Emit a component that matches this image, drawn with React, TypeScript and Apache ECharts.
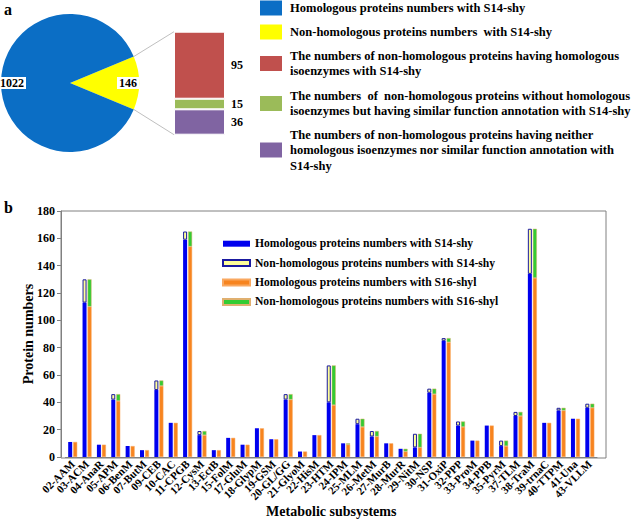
import React, { useEffect, useRef } from "react";
import * as echarts from "echarts";

// ---- Panel a data ----
const pieNames = ["Non-homologous proteins numbers  with S14-shy", "Homologous proteins numbers with S14-shy"];
const pieValues = [146, 1022];
const breakdownNames = [
  "The numbers of non-homologous proteins having neither homologous isoenzymes nor similar function annotation with S14-shy",
  "The numbers  of  non-homologous proteins without homologous isoenzymes but having similar function annotation with S14-shy",
  "The numbers of non-homologous proteins having homologous isoenzymes with S14-shy",
];
const breakdownValues = [36, 15, 95];

// ---- Panel b data ----
const categories = [
  "02-AAM", "03-ACM", "04-AnaR", "05-APM", "06-BenM", "07-ButM", "09-CEB", "10-CAC", "11-CPGB", "12-CysM",
  "13-EctB", "15-FolM", "17-GluM", "18-GlypM", "19-GSM", "20-GL/GG", "21-GlyoM", "22-HisM", "23-HTM", "24-IPM",
  "25-MLM", "26-MetM", "27-MurB", "28-MurR", "29-NitM", "30-NSP", "31-OxiP", "32-PPP", "33-ProM", "34-PPB",
  "35-PyrM", "37-TLM", "38-TraM", "39-trnaC", "40-TTPM", "41-Una", "43-VLLM",
];
const s14Hom = [11, 113, 9, 42, 8, 5, 49, 25, 159, 16, 5, 14, 9, 21, 13, 42, 4, 16, 40, 10, 24, 15, 10, 6, 7, 47, 85, 23, 12, 23, 8, 30, 134, 25, 34, 28, 36];
const s14Non = [0, 17, 0, 4, 0, 0, 7, 0, 6, 3, 0, 0, 0, 0, 0, 4, 0, 0, 27, 0, 4, 4, 0, 0, 10, 3, 2, 3, 0, 0, 4, 3, 33, 0, 2, 0, 3];
const s16Hom = [11, 110, 9, 41, 8, 5, 52, 25, 154, 16, 5, 14, 9, 21, 13, 42, 4, 16, 38, 9, 22, 15, 10, 4, 7, 46, 84, 22, 12, 23, 8, 30, 131, 25, 34, 28, 36];
const s16Non = [0, 20, 0, 5, 0, 0, 4, 0, 11, 3, 0, 0, 0, 0, 0, 4, 0, 0, 29, 1, 6, 4, 0, 2, 10, 4, 3, 4, 0, 0, 4, 3, 36, 0, 2, 0, 3];
const barSeriesNames = [
  "Homologous proteins numbers with S14-shy",
  "Non-homologous proteins numbers with S14-shy",
  "Homologous proteins numbers with S16-shyl",
  "Non-homologous proteins numbers with S16-shyl",
];

const SERIF = "'Times New Roman', 'Liberation Serif', serif";

export default function App() {
  const ref = useRef<HTMLDivElement>(null);
  useEffect(() => {
    const chart = echarts.init(ref.current!, null, { renderer: "svg" });
    const pieColors = ["#ffff00", "#0b6ec5"];
    const brColors = ["#8064a2", "#9bbb59", "#c0504d"];
    const total = pieValues[0] + pieValues[1];
    const startAngle = (360 * pieValues[0]) / total / 2;
    const brTotal = breakdownValues.reduce((a, b) => a + b, 0);
    const nz = (arr: number[]) => arr.map((v) => (v === 0 ? "-" : v));

    const legendA = [
      { y: 8, color: pieColors[1], text: "Homologous proteins numbers with S14-shy" },
      { y: 32, color: pieColors[0], text: "Non-homologous proteins numbers  with S14-shy" },
      { y: 63.5, color: brColors[2], text: "The numbers of non-homologous proteins having homologous\nisoenzymes with S14-shy" },
      { y: 103.5, color: brColors[1], text: "The numbers  of  non-homologous proteins without homologous\nisoenzymes but having similar function annotation with S14-shy" },
      { y: 150, color: brColors[0], text: "The numbers of non-homologous proteins having neither\nhomologous isoenzymes nor similar function annotation with\nS14-shy" },
    ];
    const graphics: any[] = [];
    legendA.forEach((l) => {
      graphics.push({ type: "rect", shape: { x: 260, y: l.y - 7.5, width: 22, height: 15 }, style: { fill: l.color } });
      graphics.push({
        type: "text", x: 290, y: l.y,
        style: { text: l.text, fill: "#000", font: `bold 12.5px ${SERIF}`, verticalAlign: "middle", align: "left", lineHeight: 15.5 },
      });
    });
    graphics.push({ type: "line", shape: { x1: 133.7, y1: 56.6, x2: 174, y2: 31.7 }, style: { stroke: "#bfbfbf", lineWidth: 1 } });
    graphics.push({ type: "line", shape: { x1: 133.7, y1: 109.4, x2: 174, y2: 134.7 }, style: { stroke: "#bfbfbf", lineWidth: 1 } });
    graphics.push({ type: "text", x: 4, y: 9, style: { text: "a", fill: "#000", font: `bold 16px ${SERIF}`, verticalAlign: "middle" } });
    graphics.push({ type: "text", x: 4, y: 207, style: { text: "b", fill: "#000", font: `bold 16px ${SERIF}`, verticalAlign: "middle" } });
    graphics.push({ type: "rect", shape: { x: 61, y: 211, width: 545, height: 247 }, style: { fill: "none", stroke: "#808080", lineWidth: 1 }, silent: true });

    const option: any = {
      animation: false,
      backgroundColor: "#fff",
      textStyle: { fontFamily: SERIF },
      grid: [
        { left: 65.5, right: 41, top: 211, bottom: 61, show: false },
        { left: 174, top: 31.7, width: 51, height: 103, show: false },
      ],
      legend: {
        data: barSeriesNames,
        orient: "vertical",
        left: 222,
        top: 236.7,
        padding: 0,
        itemWidth: 27,
        itemHeight: 6,
        itemGap: 5.4,
        icon: "rect",
        textStyle: { fontFamily: SERIF, fontWeight: "bold", fontSize: 11.6, color: "#000", lineHeight: 14 },
      },
      xAxis: [
        {
          gridIndex: 0, type: "category", data: categories,
          axisLine: { lineStyle: { color: "#808080" } },
          axisTick: { show: false },
          axisLabel: { rotate: 45, fontSize: 11, fontWeight: "bold", color: "#000", fontFamily: SERIF, margin: 5, interval: 0 },
          name: "Metabolic subsystems", nameLocation: "middle", nameGap: 47, nameMoveOverlap: false,
          nameTextStyle: { fontSize: 14, fontWeight: "bold", color: "#000", fontFamily: SERIF },
        },
        { gridIndex: 1, type: "category", data: [""], show: false },
      ],
      yAxis: [
        {
          gridIndex: 0, type: "value", min: 0, max: 180, interval: 20, offset: 4.5,
          axisLine: { show: true, lineStyle: { color: "#808080" } },
          axisTick: { show: true, length: 4, lineStyle: { color: "#808080" } },
          splitLine: { show: false },
          axisLabel: { fontSize: 12, fontWeight: "bold", color: "#000", fontFamily: SERIF, margin: 6 },
          name: "Protein numbers", nameLocation: "middle", nameGap: 26, nameMoveOverlap: false,
          nameTextStyle: { fontSize: 14, fontWeight: "bold", color: "#000", fontFamily: SERIF },
        },
        { gridIndex: 1, type: "value", min: 0, max: brTotal, show: false },
      ],
      series: [
        {
          type: "pie", center: [70, 83], radius: 69, startAngle, clockwise: true,
          label: { show: false }, labelLine: { show: false }, silent: true,
          data: pieValues.map((v, i) => ({ name: pieNames[i], value: v, itemStyle: { color: pieColors[i] } })),
        },
        {
          type: "pie", center: [70, 83], radius: [41, 69], startAngle, clockwise: true, silent: true,
          itemStyle: { color: "transparent" },
          label: {
            show: true, position: "inside", formatter: "{c}", color: "#000", backgroundColor: "#fff",
            fontSize: 12, fontWeight: "bold", fontFamily: SERIF, padding: [0, 2],
          },
          labelLine: { show: false },
          data: pieValues.map((v, i) => ({ name: pieNames[i] + " ", value: v })),
        },
        ...breakdownValues.map((v, i) => ({
          type: "bar", name: breakdownNames[i], xAxisIndex: 1, yAxisIndex: 1, stack: "br", barWidth: "100%",
          data: [v],
          itemStyle: { color: brColors[i], borderColor: "#fff", borderWidth: 1 },
          label: { show: true, position: "right", distance: 6, formatter: "{c}", color: "#000", fontSize: 12, fontWeight: "bold", fontFamily: SERIF },
        })),
        {
          type: "bar", name: barSeriesNames[0], stack: "s14", barWidth: 4, barGap: "25%",
          data: s14Hom, itemStyle: { color: "#0000ee" },
        },
        {
          type: "bar", name: barSeriesNames[1], stack: "s14", barWidth: 4,
          data: nz(s14Non), itemStyle: { color: "#ffff99", borderColor: "#1a1aa0", borderWidth: 1 },
        },
        {
          type: "bar", name: barSeriesNames[2], stack: "s16", barWidth: 4,
          data: s16Hom, itemStyle: { color: "#f7841f", borderColor: "#f9a860", borderWidth: 0.5 },
        },
        {
          type: "bar", name: barSeriesNames[3], stack: "s16", barWidth: 4,
          data: nz(s16Non), itemStyle: { color: "#33cc33", borderColor: "#e0b070", borderWidth: 0.5 },
        },
      ],
      graphic: graphics,
    };
    chart.setOption(option);
    return () => chart.dispose();
  }, []);
  return <div ref={ref} style={{ position: "fixed", left: 0, top: 0, width: 638, height: 519 }} />;
}
